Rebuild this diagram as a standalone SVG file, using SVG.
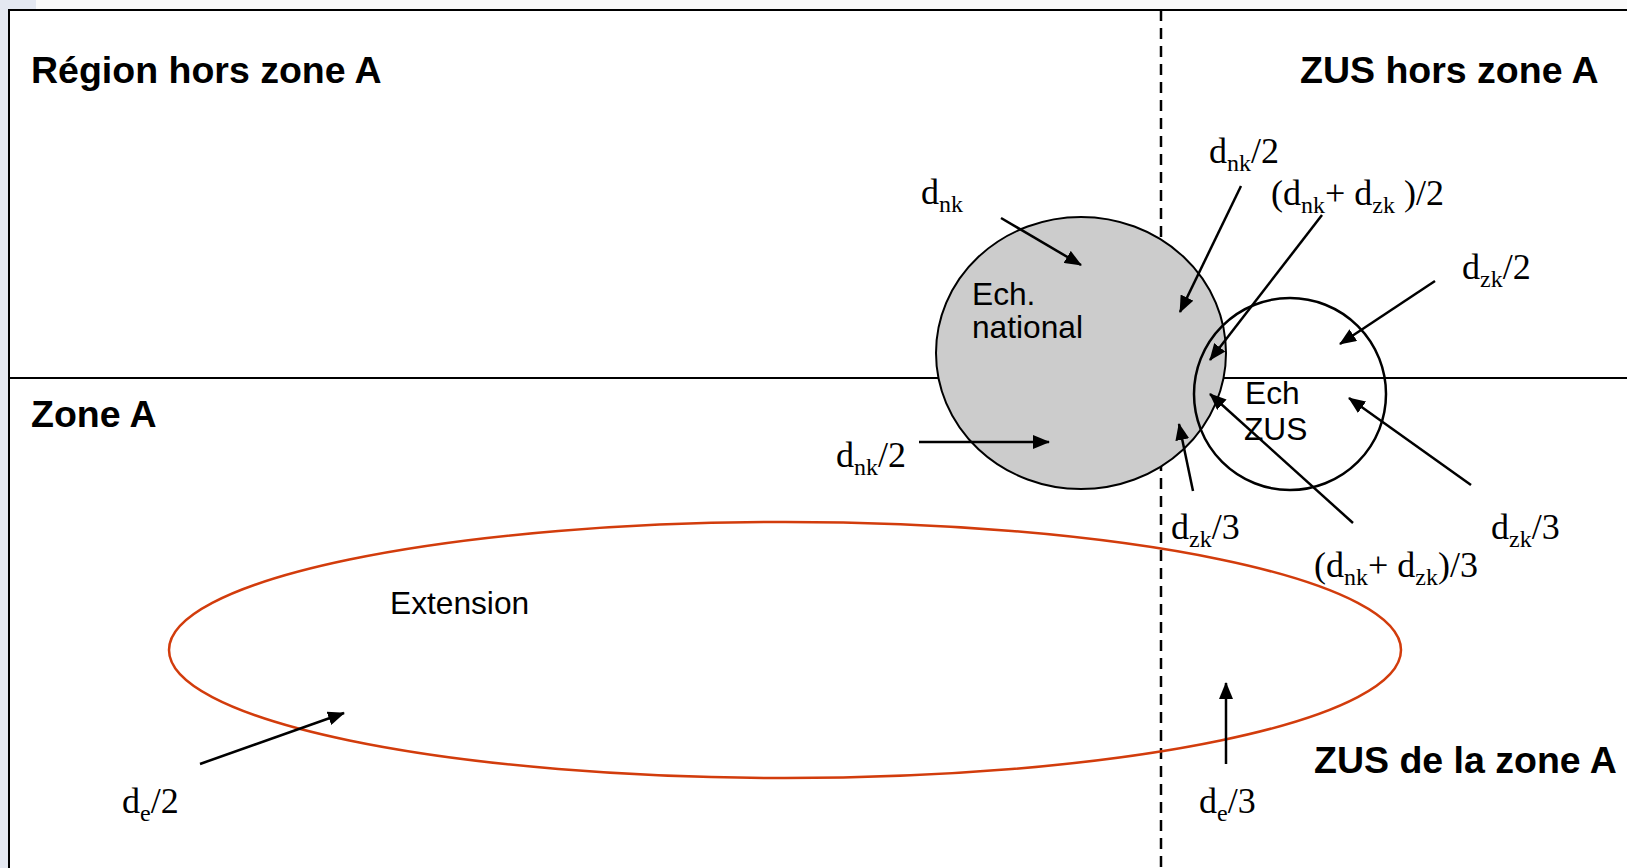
<svg xmlns="http://www.w3.org/2000/svg" width="1627" height="868" viewBox="0 0 1627 868">
<style>
.title{font-family:"Liberation Sans",Arial,sans-serif;font-weight:bold;font-size:37.5px;fill:#000}
.lbl{font-family:"Liberation Sans",Arial,sans-serif;font-size:31.7px;fill:#000}
.m{font-family:"Liberation Serif","Times New Roman",serif;font-size:36px;fill:#000}
.s{font-size:24px}
.ln{stroke:#000;stroke-width:2;fill:none}
.arr{stroke:#000;stroke-width:2.5;fill:none;marker-end:url(#ah)}
</style>
<defs>
<marker id="ah" markerUnits="userSpaceOnUse" markerWidth="18" markerHeight="14" refX="16" refY="7" orient="auto">
<path d="M0,0 L17,7 L0,14 Z" fill="#000"/>
</marker>
</defs>
<rect x="0" y="0" width="1627" height="868" fill="#ffffff"/>
<rect x="0" y="0" width="8" height="868" fill="#e4e8f1"/>
<rect x="0" y="0" width="36" height="9" fill="#e4e8f1"/>
<rect x="36" y="0" width="1591" height="9" fill="#fafafa"/>
<g id="frame">
<path class="ln" d="M9,868 V10 H1627"/>
<line class="ln" x1="9" y1="378" x2="1627" y2="378"/>
<line x1="1161" y1="10" x2="1161" y2="868" stroke="#000" stroke-width="2.5" stroke-dasharray="11,7"/>
</g>
<g id="zone-labels">
<text class="title" x="31" y="83">Région hors zone A</text>
<text class="title" x="1300" y="83">ZUS hors zone A</text>
<text class="title" x="31" y="427">Zone A</text>
<text class="title" x="1314" y="773">ZUS de la zone A</text>
</g>
<g id="ech-national">
<ellipse cx="1081" cy="353" rx="145" ry="136" fill="#cccccc" stroke="#000" stroke-width="2"/>
<text class="lbl" x="972" y="305">Ech.</text>
<text class="lbl" x="972" y="338">national</text>
</g>
<g id="ech-zus">
<ellipse cx="1290" cy="394" rx="96" ry="96" fill="none" stroke="#000" stroke-width="2.5"/>
<text class="lbl" x="1245" y="404">Ech</text>
<text class="lbl" x="1244" y="440">ZUS</text>
</g>
<g id="extension">
<ellipse cx="785" cy="650" rx="616" ry="128" fill="none" stroke="#d23c0c" stroke-width="2.5"/>
<text class="lbl" x="390" y="614">Extension</text>
</g>
<g id="connectors">
<line class="arr" x1="1001" y1="218" x2="1081" y2="265"/>
<line class="arr" x1="1241" y1="186" x2="1180" y2="312"/>
<line class="arr" x1="1322" y1="215" x2="1210" y2="360"/>
<line class="arr" x1="1435" y1="281" x2="1340" y2="344"/>
<line class="arr" x1="919" y1="442" x2="1049" y2="442"/>
<line class="arr" x1="1193" y1="491" x2="1179" y2="424"/>
<line class="arr" x1="1353" y1="523" x2="1210" y2="394"/>
<line class="arr" x1="1471" y1="485" x2="1349" y2="398"/>
<line class="arr" x1="200" y1="764" x2="344" y2="713"/>
<line class="arr" x1="1226" y1="764" x2="1226" y2="683"/>
</g>
<g id="math-labels">
<text class="m" x="921" y="204">d<tspan class="s" dy="8">nk</tspan></text>
<text class="m" x="1209" y="163">d<tspan class="s" dy="8">nk</tspan><tspan dy="-8">/2</tspan></text>
<text class="m" x="1271" y="205">(d<tspan class="s" dy="8">nk</tspan><tspan dy="-8">+ d</tspan><tspan class="s" dy="8">zk</tspan><tspan dy="-8"> )/2</tspan></text>
<text class="m" x="1462" y="279">d<tspan class="s" dy="8">zk</tspan><tspan dy="-8">/2</tspan></text>
<text class="m" x="836" y="467">d<tspan class="s" dy="8">nk</tspan><tspan dy="-8">/2</tspan></text>
<text class="m" x="1171" y="539">d<tspan class="s" dy="8">zk</tspan><tspan dy="-8">/3</tspan></text>
<text class="m" x="1314" y="577">(d<tspan class="s" dy="8">nk</tspan><tspan dy="-8">+ d</tspan><tspan class="s" dy="8">zk</tspan><tspan dy="-8">)/3</tspan></text>
<text class="m" x="1491" y="539">d<tspan class="s" dy="8">zk</tspan><tspan dy="-8">/3</tspan></text>
<text class="m" x="122" y="813">d<tspan class="s" dy="8">e</tspan><tspan dy="-8">/2</tspan></text>
<text class="m" x="1199" y="813">d<tspan class="s" dy="8">e</tspan><tspan dy="-8">/3</tspan></text>
</g>
</svg>
